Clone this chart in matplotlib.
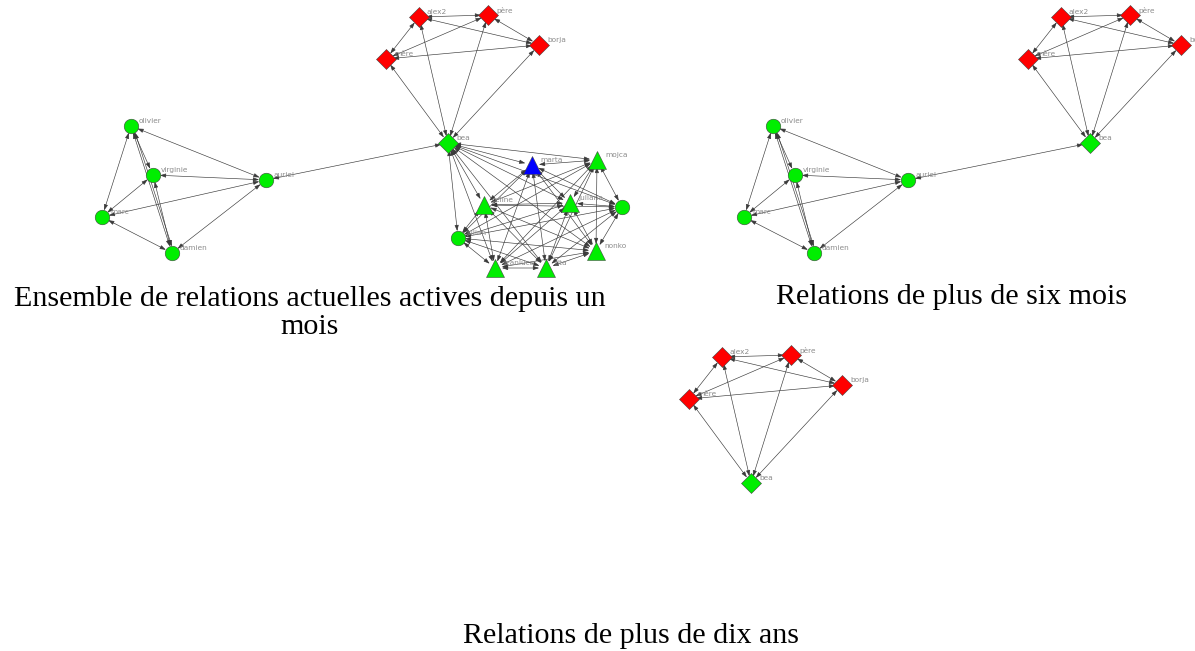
import matplotlib.pyplot as plt

# nodes of the network: name -> (shape, colour)
family = ["alex2", "père", "borja", "mère"]
friends = ["olivier", "virginie", "marc", "damien", "auriel"]
cluster = ["marta", "mojca", "celine", "juliana", "ivan", "julien", "nonko", "jeanluca", "rita"]

shape = {"alex2": "D", "père": "D", "borja": "D", "mère": "D", "bea": "D",
         "olivier": "o", "virginie": "o", "marc": "o", "damien": "o", "auriel": "o",
         "marta": "^", "mojca": "^", "celine": "^", "juliana": "^", "ivan": "o",
         "julien": "o", "nonko": "^", "jeanluca": "^", "rita": "^"}
colour = {n: "#00ee00" for n in shape}
for n in family:
    colour[n] = "#ff0000"
colour["marta"] = "#0000ff"
hidden_label = ["ivan"]

family_edges = [("alex2", "père"), ("alex2", "borja"), ("alex2", "mère"), ("mère", "père"),
                ("mère", "borja"), ("père", "borja"), ("bea", "alex2"), ("bea", "père"),
                ("bea", "borja"), ("bea", "mère")]
friend_edges = [("olivier", "virginie"), ("olivier", "marc"), ("olivier", "damien"),
                ("damien", "olivier"),
                ("olivier", "auriel"), ("virginie", "auriel"), ("virginie", "damien"),
                ("marc", "virginie"), ("marc", "auriel"), ("marc", "damien"),
                ("damien", "auriel"), ("auriel", "bea")]
cluster_edges = [
    ("bea", "marta"), ("bea", "mojca"), ("bea", "celine"), ("bea", "juliana"), ("bea", "ivan"),
    ("bea", "julien"), ("bea", "nonko"), ("bea", "jeanluca"), ("bea", "rita"),
    ("marta", "mojca"), ("marta", "celine"), ("marta", "juliana"), ("marta", "ivan"),
    ("marta", "julien"), ("marta", "nonko"), ("marta", "jeanluca"), ("marta", "rita"),
    ("mojca", "celine"), ("mojca", "juliana"), ("mojca", "ivan"), ("mojca", "julien"),
    ("mojca", "jeanluca"), ("mojca", "rita"), ("mojca", "nonko"),
    ("celine", "juliana"), ("celine", "ivan"), ("celine", "julien"), ("celine", "jeanluca"),
    ("celine", "rita"), ("celine", "nonko"),
    ("juliana", "ivan"), ("juliana", "julien"), ("juliana", "nonko"), ("juliana", "jeanluca"),
    ("juliana", "rita"),
    ("ivan", "julien"), ("ivan", "nonko"), ("ivan", "jeanluca"), ("ivan", "rita"),
    ("julien", "nonko"), ("julien", "jeanluca"), ("julien", "rita"),
    ("nonko", "jeanluca"), ("nonko", "rita"), ("jeanluca", "rita")]

titles = ["Ensemble de relations actuelles actives depuis un\nmois",
          "Relations de plus de six mois",
          "Relations de plus de dix ans"]

# layout (pixel coordinates of the first panel)
pos = {"alex2": (419, 17), "père": (488, 15), "borja": (539, 45), "mère": (386, 59),
       "bea": (448, 143),
       "olivier": (131, 126), "virginie": (153, 175), "marc": (102, 217),
       "damien": (172, 253), "auriel": (266, 180),
       "marta": (532, 165), "mojca": (597, 160), "celine": (484, 205), "juliana": (570, 203),
       "ivan": (622, 207), "julien": (458, 238), "nonko": (596, 251),
       "jeanluca": (495, 268), "rita": (546, 268)}
msize = {"D": 10, "o": 10.5, "^": 12.5}

panels = [
    (family + ["bea"] + friends + cluster, family_edges + friend_edges + cluster_edges, (0, 0)),
    (family + ["bea"] + friends, family_edges + friend_edges, (642, 0)),
    (family + ["bea"], family_edges, (303, 340)),
]
title_pos = [(310, 313), (952, 297), (631, 636)]

fig = plt.figure(figsize=(11.95, 6.51), dpi=100)
ax = fig.add_axes([0, 0, 1, 1])
ax.set_xlim(0, 1195)
ax.set_ylim(651, 0)
ax.axis("off")

for nodes, edges, (dx, dy) in panels:
    seen = set()
    for a, b in edges:
        xa, ya = pos[a]
        xb, yb = pos[b]
        # a repeated pair is drawn as a second, slightly shifted line
        off = 2 if frozenset((a, b)) in seen else 0
        seen.add(frozenset((a, b)))
        ax.annotate("", xy=(xb + dx + off, yb + dy), xytext=(xa + dx + off, ya + dy),
                    arrowprops=dict(arrowstyle="<|-|>,head_length=0.35,head_width=0.12",
                                    color="#3a3a3a", lw=0.45, shrinkA=5, shrinkB=5),
                    zorder=1)
    for n in nodes:
        x, y = pos[n]
        ax.plot(x + dx, y + dy, marker=shape[n], markersize=msize[shape[n]],
                markerfacecolor=colour[n], markeredgecolor="#444444",
                markeredgewidth=0.4, linestyle="none", zorder=3)
        if n not in hidden_label:
            ax.text(x + dx + 8, y + dy - 5, n, fontsize=5.3, color="#8c8c8c",
                    ha="left", va="center", zorder=4)

for t, (x, y) in zip(titles, title_pos):
    ax.text(x, y, t, fontsize=21.6, family="Liberation Serif", ha="center", va="center",
            linespacing=1.1)

fig.savefig("out.png", dpi=100)
